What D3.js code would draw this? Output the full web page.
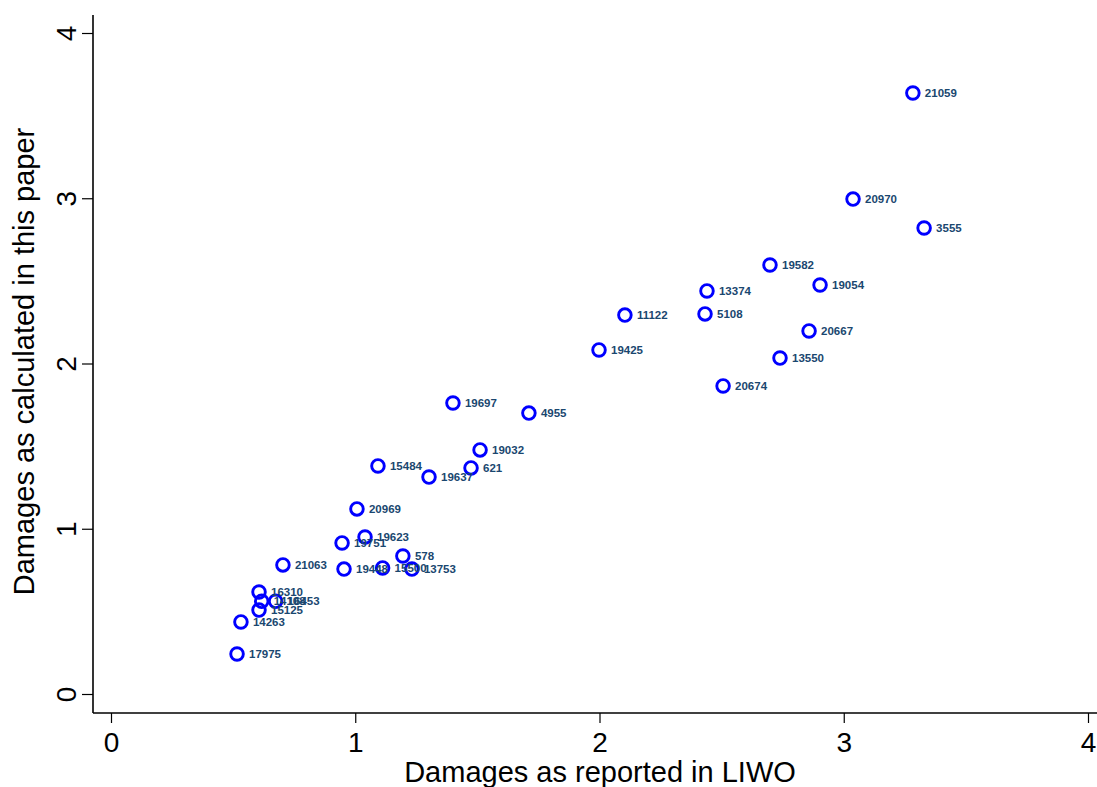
<!DOCTYPE html>
<html><head><meta charset="utf-8">
<script src="https://cdn.jsdelivr.net/npm/d3@7"></script>
<style>body{margin:0;background:#fff}svg{display:block}</style>
</head><body>
<svg id="c" width="1097" height="787"></svg>
<script>
const ids = ["21059","20970","3555","19582","19054","13374","5108","11122","20667","19425","13550","20674","19697","4955","19032","15484","621","19637","20969","19623","19751","578","21063","19448","15500","13753","16310","14108","16453","15125","14263","17975"];
const liwo = [3.283,3.038,3.329,2.698,2.903,2.440,2.432,2.104,2.858,1.998,2.739,2.506,1.400,1.711,1.511,1.093,1.474,1.302,1.007,1.040,0.946,1.195,0.704,0.954,1.112,1.232,0.606,0.617,0.674,0.606,0.532,0.516];
const paper = [3.637,2.995,2.820,2.596,2.475,2.439,2.300,2.293,2.197,2.082,2.033,1.864,1.761,1.700,1.477,1.380,1.368,1.313,1.120,0.950,0.914,0.835,0.781,0.756,0.763,0.756,0.617,0.561,0.561,0.508,0.436,0.242];
const xTicks = [0,1,2,3,4];
const yTicks = [0,1,2,3,4];
const xTitle = "Damages as reported in LIWO";
const yTitle = "Damages as calculated in this paper";

(function(){
const svg = d3.select("#c");
const x = d3.scaleLinear().domain([0,4]).range([111,1088]);
const y = d3.scaleLinear().domain([0,4]).range([694,33]);
const pLeft = 93, pBottom = 713, pTop = 15, pRight = 1097;
const font = "Liberation Sans, Arial, sans-serif";

const xa = svg.append("g").attr("transform",`translate(0,${pBottom})`)
  .call(d3.axisBottom(x).tickValues(xTicks).tickFormat(d3.format("d")).tickSizeOuter(0).tickSize(10).tickPadding(9));
xa.select(".domain").remove();
xa.selectAll("line").attr("stroke","#000").attr("stroke-width",1.2);
xa.selectAll("text").attr("font-family",font).attr("font-size",28).attr("fill","#000");
svg.append("line").attr("x1",pLeft).attr("x2",pRight).attr("y1",pBottom).attr("y2",pBottom).attr("stroke","#000").attr("stroke-width",1.6);

const ya = svg.append("g").attr("transform",`translate(${pLeft},0)`)
  .call(d3.axisLeft(y).tickValues(yTicks).tickFormat(d3.format("d")).tickSizeOuter(0).tickSize(11));
ya.select(".domain").remove();
ya.selectAll("line").attr("stroke","#000").attr("stroke-width",1.2);
ya.selectAll("text").attr("font-family",font).attr("font-size",28).attr("fill","#000")
  .attr("x",0).attr("dy",0).attr("text-anchor","middle")
  .attr("transform","translate(-27,0) rotate(-90)").attr("dominant-baseline","central");
svg.append("line").attr("x1",pLeft).attr("x2",pLeft).attr("y1",pTop).attr("y2",pBottom).attr("stroke","#000").attr("stroke-width",1.6);

svg.append("text").attr("x",600).attr("y",782).attr("text-anchor","middle")
  .attr("font-family",font).attr("font-size",29).text(xTitle);
svg.append("text").attr("transform",`translate(34,${(125+598)/2}) rotate(-90)`).attr("text-anchor","middle")
  .attr("font-family",font).attr("font-size",29).text(yTitle);

const data = ids.map((id,i)=>({id, x:liwo[i], y:paper[i]}));
const g = svg.append("g");
g.selectAll("circle").data(data).join("circle")
  .attr("cx",d=>x(d.x)).attr("cy",d=>y(d.y)).attr("r",6.3)
  .attr("fill","none").attr("stroke","#0000ff").attr("stroke-width",2.9);
g.selectAll("text").data(data).join("text")
  .attr("x",d=>x(d.x)+12).attr("y",d=>y(d.y)).attr("dy","0.36em")
  .attr("font-family",font).attr("font-weight","bold").attr("font-size",11.5)
  .attr("fill","#1a476f").text(d=>d.id);
})();
</script>
</body></html>
